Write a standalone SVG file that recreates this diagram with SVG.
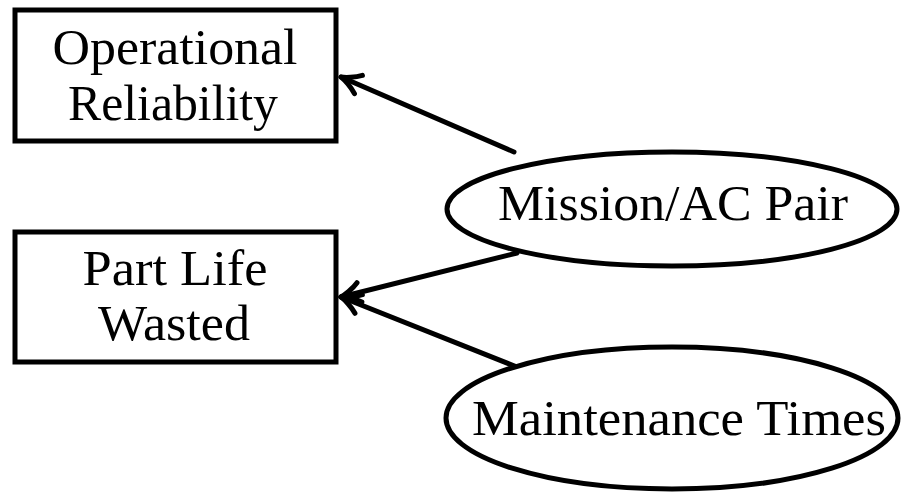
<svg xmlns="http://www.w3.org/2000/svg" width="901" height="493" viewBox="0 0 901 493">
  <style>
    .box { fill: #fff; stroke: #000; stroke-width: 5; }
    .oval { fill: #fff; stroke: #000; stroke-width: 5; }
    .label { font-family: "Liberation Serif", "DejaVu Serif", serif; font-size: 50px; fill: #000; text-anchor: middle; }
    .edge { fill: none; stroke: #000; stroke-width: 5; stroke-linecap: round; }
  </style>
  <defs>
    <marker id="to" markerUnits="userSpaceOnUse" markerWidth="40" markerHeight="40" refX="30" refY="20" orient="auto" overflow="visible">
      <path d="M 11,10 C 17,15 26,19 30,20 C 26,21 17,25 11,30" fill="none" stroke="#000" stroke-width="5" stroke-linecap="round" stroke-linejoin="round"/>
    </marker>
  </defs>

  <rect width="901" height="493" fill="#fff"/>

  <g id="connectors">
    <path class="edge" d="M 514,152 L 341,77" marker-end="url(#to)"/>
    <path class="edge" d="M 517,253 L 341,297" marker-end="url(#to)"/>
    <path class="edge" d="M 517,367 L 341,297" marker-end="url(#to)"/>
  </g>

  <g id="operational-reliability">
    <rect class="box" x="15" y="10" width="321" height="131"/>
    <text class="label" x="175" y="64" textLength="245" lengthAdjust="spacingAndGlyphs">Operational</text>
    <text class="label" x="173" y="120" textLength="210" lengthAdjust="spacingAndGlyphs">Reliability</text>
  </g>

  <g id="part-life-wasted">
    <rect class="box" x="15" y="232" width="321" height="130"/>
    <text class="label" x="175" y="285" textLength="185" lengthAdjust="spacingAndGlyphs">Part Life</text>
    <text class="label" x="174" y="340" textLength="152" lengthAdjust="spacingAndGlyphs">Wasted</text>
  </g>

  <g id="mission-ac-pair">
    <ellipse class="oval" cx="672" cy="209" rx="225" ry="57"/>
    <text class="label" x="673" y="220" textLength="350" lengthAdjust="spacingAndGlyphs">Mission/AC Pair</text>
  </g>

  <g id="maintenance-times">
    <ellipse class="oval" cx="672" cy="418" rx="226" ry="71"/>
    <text class="label" x="679" y="435" textLength="414" lengthAdjust="spacingAndGlyphs">Maintenance Times</text>
  </g>
</svg>
